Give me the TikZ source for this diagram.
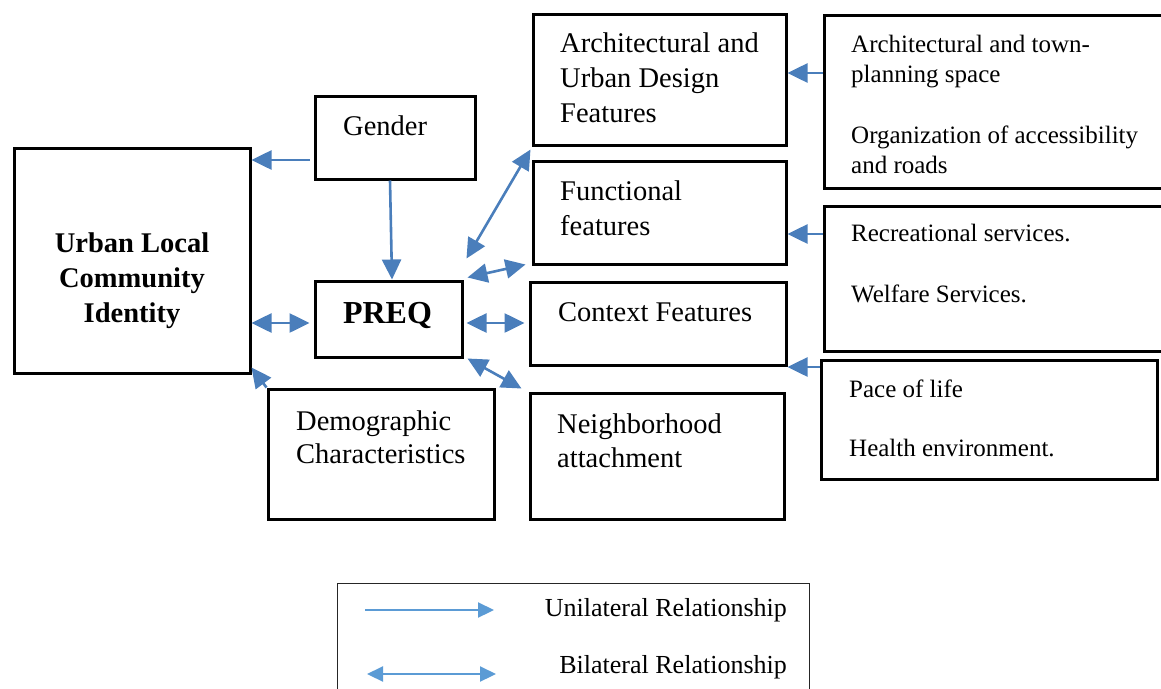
\documentclass[tikz,border=0pt]{standalone}
\usepackage{fontspec}
\setmainfont{Liberation Serif}
\usetikzlibrary{arrows.meta}

\definecolor{linkblue}{RGB}{74,126,187}
\definecolor{keyblue}{RGB}{91,155,213}

\tikzset{
  box/.style={draw=black, line width=3pt, rectangle, inner sep=0pt},
  lbl/.style={inner sep=0pt, anchor=base west, font=\fontsize{28.5}{35}\selectfont},
  sidelbl/.style={inner sep=0pt, anchor=base west, font=\fontsize{25}{30.5}\selectfont},
  head/.tip={Triangle[length=20pt,width=19pt]},
  keyhead/.tip={Triangle[length=16pt,width=15pt]},
  uni/.style={draw=linkblue, line width=2.6pt, -head},
  bi/.style={draw=linkblue, line width=2.6pt, head-head},
  keyuni/.style={draw=keyblue, line width=2.2pt, -keyhead},
  keybi/.style={draw=keyblue, line width=2.2pt, keyhead-keyhead},
}

\begin{document}
\begin{tikzpicture}[x=1pt, y=-1pt]
\useasboundingbox (0,0) rectangle (1161,688);
\clip (0,0) rectangle (1161,688);

% main boxes
\node[box, minimum width=236pt, minimum height=225pt] (urban) at (132,260.5) {};
\node[box, minimum width=160pt, minimum height=83pt]  (gender) at (395,137.5) {};
\node[box, minimum width=147pt, minimum height=76pt]  (preq) at (388.5,319) {};
\node[box, minimum width=226pt, minimum height=130pt] (demo) at (381,454) {};
\node[box, minimum width=253pt, minimum height=131pt] (arch) at (659.5,79.5) {};
\node[box, minimum width=253pt, minimum height=103pt] (func) at (659.5,212.5) {};
\node[box, minimum width=256pt, minimum height=83pt]  (context) at (658,323.5) {};
\node[box, minimum width=254pt, minimum height=126pt] (neigh) at (657,456) {};

% factor boxes on the right
\node[box, minimum width=351pt, minimum height=173pt] (side1) at (999.5,101.5) {};
\node[box, minimum width=351pt, minimum height=145pt] (side2) at (999.5,278.5) {};
\node[box, minimum width=336pt, minimum height=119pt] (side3) at (989,419.5) {};

% labels
\node[inner sep=0pt, anchor=base, font=\fontsize{28.5}{35}\selectfont\bfseries] (urban-t) at (132,252)
  {\begin{tabular}[t]{@{}c@{}}Urban Local\\Community\\Identity\end{tabular}};
\node[lbl] (gender-t) at (343,135) {Gender};
\node[inner sep=0pt, anchor=base, font=\fontsize{32}{36}\selectfont\bfseries] (preq-t) at (387.5,323) {PREQ};
\node[lbl] (demo-t) at (296,430)
  {\begin{tabular}[t]{@{}l@{}}Demographic\\[-1.5pt]Characteristics\end{tabular}};
\node[lbl] (arch-t) at (560,52)
  {\begin{tabular}[t]{@{}l@{}}Architectural and\\Urban Design\\Features\end{tabular}};
\node[lbl] (func-t) at (560,200)
  {\begin{tabular}[t]{@{}l@{}}Functional\\features\end{tabular}};
\node[lbl] (context-t) at (558,321) {Context Features};
\node[lbl] (neigh-t) at (557,433)
  {\begin{tabular}[t]{@{}l@{}}Neighborhood\\[-1pt]attachment\end{tabular}};

\node[sidelbl] (side1-t) at (851,52)
  {\begin{tabular}[t]{@{}l@{}}Architectural and town-\\planning space\\[30pt]Organization of accessibility\\[-0.5pt]and roads\end{tabular}};
\node[sidelbl] (side2-t) at (851,241)
  {\begin{tabular}[t]{@{}l@{}}Recreational services.\\[30.5pt]Welfare Services.\end{tabular}};
\node[sidelbl] (side3-t) at (849,397)
  {\begin{tabular}[t]{@{}l@{}}Pace of life\\[28.5pt]Health environment.\end{tabular}};

% relationships
\coordinate (g-out) at ([yshift=-22.5pt]gender.west);
\draw[uni, shorten <=4pt] (g-out) -- (g-out -| urban.east);
\draw[uni] ([xshift=-5pt]gender.south) -- ([xshift=3.5pt]preq.north);

\coordinate (p-w) at ([yshift=-4pt]preq.west);
\draw[bi, shorten >=4pt] (p-w -| urban.east) -- (p-w);
\draw[uni] (demo.north west) -- ([yshift=7pt]urban.south east);

\draw[bi] ([xshift=3pt,yshift=21pt]preq.north east) -- ([xshift=-1pt,yshift=-3pt]arch.south west);
\draw[bi] ([xshift=4pt,yshift=2pt]preq.north east) -- ([xshift=-6pt,yshift=1pt]func.south west);
\coordinate (p-e) at ([yshift=-4pt]preq.east);
\draw[bi, shorten <=3pt, shorten >=4pt] (p-e) -- (p-e -| context.west);
\draw[bi] ([xshift=4pt]preq.south east) -- ([xshift=-7pt,yshift=3pt]neigh.north west);

\coordinate (s1-w) at ([yshift=28.5pt]side1.west);
\draw[uni] (s1-w) -- (s1-w -| arch.east);
\coordinate (s2-w) at ([yshift=44.5pt]side2.west);
\draw[uni] (s2-w) -- (s2-w -| func.east);
\coordinate (s3-w) at ([yshift=52.5pt]side3.west);
\draw[uni] (s3-w) -- (s3-w -| context.east);

% key
\node[draw=black!85, line width=1pt, rectangle, inner sep=0pt, anchor=north west,
      minimum width=472pt, minimum height=140pt] (key) at (337,583) {};
\coordinate (k1a) at (365,610);
\coordinate (k1b) at (494,610);
\coordinate (k2a) at (367,674);
\coordinate (k2b) at (496,674);
\draw[keyuni] (k1a) -- (k1b);
\draw[keybi] (k2a) -- (k2b);
\node[inner sep=0pt, anchor=base east, font=\fontsize{26}{30}\selectfont] (uni-t) at (787,616) {Unilateral Relationship};
\node[inner sep=0pt, anchor=base east, font=\fontsize{26}{30}\selectfont] (bi-t) at (787,673) {Bilateral Relationship};
\end{tikzpicture}
\end{document}
